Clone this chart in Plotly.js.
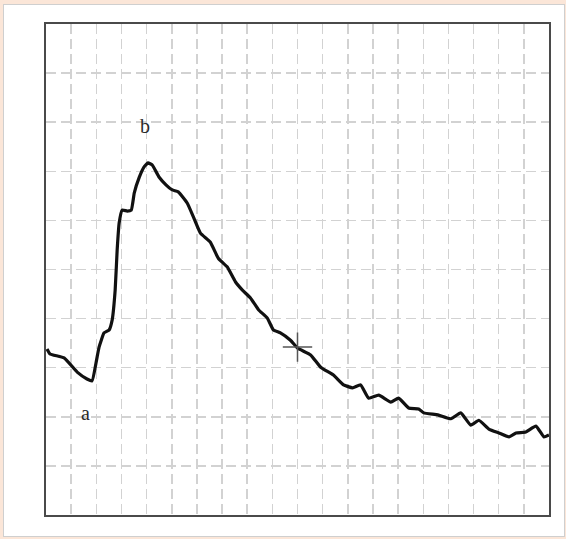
<!DOCTYPE html>
<html>
<head>
<meta charset="utf-8">
<script src="https://cdn.plot.ly/plotly-3.0.1.min.js"></script>
<style>
  html, body { margin: 0; padding: 0; width: 566px; height: 539px; overflow: hidden; background: #fbe6d8; }
  #panel { position: absolute; left: 3px; top: 4px; width: 560px; height: 531px; background: #ffffff; border: 1px solid #cfcfcf; }
  #chart { position: absolute; left: 0; top: 0; width: 566px; height: 539px; }
</style>
</head>
<body>
<div id="panel"></div>
<div id="chart"></div>
<script>
// Trace (x in grid divisions 0..20, y in grid divisions 0..10)
const traceX = [0.04, 0.16, 0.72, 1.24, 1.63, 1.83, 1.99, 2.11, 2.31, 2.51, 2.63, 2.75, 2.83, 2.91, 3.03, 3.23, 3.39, 3.51, 3.71, 3.90, 4.06, 4.22, 4.50, 4.78, 5.02, 5.26, 5.62, 5.86, 6.14, 6.53, 6.85, 7.21, 7.53, 7.81, 8.13, 8.45, 8.80, 9.04, 9.32, 9.72, 10.00, 10.52, 10.92, 11.43, 11.83, 12.19, 12.51, 12.83, 13.23, 13.71, 14.02, 14.42, 14.82, 15.02, 15.58, 16.10, 16.49, 16.89, 17.21, 17.61, 18.01, 18.41, 18.69, 19.08, 19.48, 19.80, 20.00];
const traceY = [3.38, 3.28, 3.20, 2.91, 2.77, 2.73, 3.10, 3.42, 3.71, 3.77, 3.97, 4.58, 5.40, 5.95, 6.21, 6.19, 6.21, 6.56, 6.88, 7.09, 7.17, 7.13, 6.88, 6.72, 6.62, 6.58, 6.35, 6.07, 5.74, 5.56, 5.23, 5.05, 4.75, 4.58, 4.42, 4.18, 4.01, 3.77, 3.71, 3.56, 3.40, 3.26, 3.01, 2.85, 2.65, 2.59, 2.65, 2.38, 2.44, 2.30, 2.38, 2.18, 2.16, 2.08, 2.04, 1.96, 2.08, 1.83, 1.93, 1.75, 1.67, 1.59, 1.67, 1.69, 1.81, 1.59, 1.63];

// Cursor cross
const cursorX = [10.0];
const cursorY = [3.42];

// Point labels
const labelText = ["a", "b"];
const labelX = [1.59, 3.94];
const labelY = [2.08, 7.92];

const traces = [
  { x: traceX, y: traceY, type: 'scatter', mode: 'lines',
    line: { color: '#111111', width: 3.2, shape: 'spline', smoothing: 0.4 }, hoverinfo: 'skip' },
  { x: cursorX, y: cursorY, type: 'scatter', mode: 'markers',
    marker: { symbol: 'cross-thin', size: 21, color: '#555555', line: { color: '#555555', width: 1.5 } }, hoverinfo: 'skip' }
];

const annotations = labelText.map((t, i) => ({
  x: labelX[i], y: labelY[i], xref: 'x', yref: 'y', text: t, showarrow: false,
  font: { family: 'Liberation Serif, DejaVu Serif, serif', size: 20, color: '#2a2a2a' }
}));

const axisCommon = {
  showgrid: true, gridcolor: '#d2d2d2', gridwidth: 1.5, griddash: '10px,5px',
  zeroline: false, showticklabels: false, ticks: '',
  showline: true, mirror: true, linecolor: '#4a4a4a', linewidth: 2
};

const layout = {
  width: 566, height: 539,
  margin: { l: 46, r: 17, t: 24, b: 24, pad: 0 },
  paper_bgcolor: 'rgba(0,0,0,0)', plot_bgcolor: '#ffffff',
  showlegend: false,
  xaxis: Object.assign({}, axisCommon, { range: [0, 20], dtick: 1 }),
  yaxis: Object.assign({}, axisCommon, { range: [0, 10], dtick: 1 }),
  annotations: annotations
};

Plotly.newPlot('chart', traces, layout, { staticPlot: true, displayModeBar: false });
</script>
</body>
</html>
